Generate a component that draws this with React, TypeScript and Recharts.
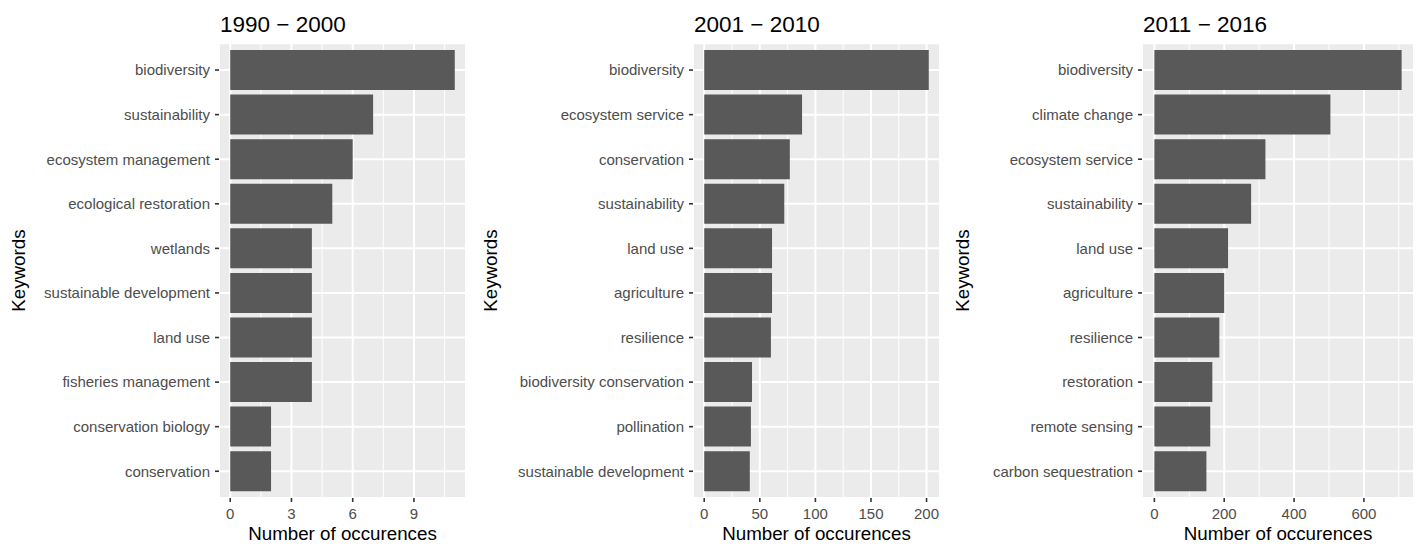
import React from 'react';
import { BarChart, Bar, XAxis, YAxis, CartesianGrid, Label } from 'recharts';

const cats1 = ['biodiversity', 'sustainability', 'ecosystem management', 'ecological restoration', 'wetlands', 'sustainable development', 'land use', 'fisheries management', 'conservation biology', 'conservation'];
const vals1 = [11, 7, 6, 5, 4, 4, 4, 4, 2, 2];
const ticks1 = [0, 3, 6, 9];
const minor1 = [1.5, 4.5, 7.5, 10.5];
const domain1: [number, number] = [-0.55, 11.55];

const cats2 = ['biodiversity', 'ecosystem service', 'conservation', 'sustainability', 'land use', 'agriculture', 'resilience', 'biodiversity conservation', 'pollination', 'sustainable development'];
const vals2 = [202, 88, 77, 72, 61, 61, 60, 43, 42, 41];
const ticks2 = [0, 50, 100, 150, 200];
const minor2 = [25, 75, 125, 175];
const domain2: [number, number] = [-10.1, 212.1];

const cats3 = ['biodiversity', 'climate change', 'ecosystem service', 'sustainability', 'land use', 'agriculture', 'resilience', 'restoration', 'remote sensing', 'carbon sequestration'];
const vals3 = [708, 504, 318, 277, 211, 200, 186, 166, 160, 149];
const ticks3 = [0, 200, 400, 600];
const minor3 = [100, 300, 500, 700];
const domain3: [number, number] = [-35.4, 743.4];

const titles = ['1990 \u2212 2000', '2001 \u2212 2010', '2011 \u2212 2016'];

const FONT = '"Liberation Sans", Arial, Helvetica, sans-serif';
const H = 546;
const TOP = 43.3;
const XH = 48;

type PanelProps = {
  cats: string[];
  vals: number[];
  ticks: number[];
  minor: number[];
  domain: [number, number];
  title: string;
  left: number;
  width: number;
  yw: number;
  right: number;
};

function Panel({ cats, vals, ticks, minor, domain, title, left, width, yw, right }: PanelProps) {
  const data = cats.map((c, i) => ({ name: c, value: vals[i] }));
  const plotH = H - TOP - XH;
  const pad = (plotH * 0.1) / 10.2;
  return (
    <div style={{ position: 'absolute', left, top: 0, width, height: H }}>
      <BarChart
        width={width}
        height={H}
        data={data}
        layout="vertical"
        margin={{ top: TOP, right, bottom: 0, left: 0 }}
        barCategoryGap="5%"
      >
        <CartesianGrid
          xAxisId="minor"
          horizontal={false}
          fill="#EBEBEB"
          stroke="#FFFFFF"
          strokeWidth={1}
        />
        <CartesianGrid stroke="#FFFFFF" strokeWidth={2} />
        <XAxis
          xAxisId="minor"
          type="number"
          domain={domain}
          ticks={minor}
          allowDataOverflow
          interval={0}
          hide
        />
        <XAxis
          type="number"
          dataKey="value"
          domain={domain}
          ticks={ticks}
          allowDataOverflow
          interval={0}
          height={XH}
          axisLine={false}
          tickSize={4}
          tickMargin={6}
          tickLine={{ stroke: '#333333', strokeWidth: 1.6 }}
          tick={{ fill: '#4D4D4D', fontSize: 15, fontFamily: FONT }}
        >
          <Label
            content={(props: any) => {
              const vb = props.viewBox || {};
              return (
                <text
                  x={vb.x + vb.width / 2}
                  y={vb.y + 42}
                  textAnchor="middle"
                  fontSize={18.75}
                  fontFamily={FONT}
                  fill="#000000"
                >
                  Number of occurences
                </text>
              );
            }}
          />
        </XAxis>
        <YAxis
          type="category"
          dataKey="name"
          width={yw}
          interval={0}
          padding={{ top: pad, bottom: pad }}
          axisLine={false}
          tickSize={4}
          tickMargin={5}
          tickLine={{ stroke: '#333333', strokeWidth: 1.6 }}
          tick={{ fill: '#4D4D4D', fontSize: 15, fontFamily: FONT }}
        >
          <Label
            content={(props: any) => {
              const vb = props.viewBox || {};
              const cy = vb.y + vb.height / 2;
              return (
                <text
                  x={25}
                  y={cy}
                  transform={`rotate(-90, 25, ${cy})`}
                  textAnchor="middle"
                  fontSize={18.75}
                  fontFamily={FONT}
                  fill="#000000"
                >
                  Keywords
                </text>
              );
            }}
          />
        </YAxis>
        <Bar dataKey="value" fill="#595959" isAnimationActive={false} />
      </BarChart>
      <svg style={{ position: 'absolute', left: 0, top: 0, pointerEvents: 'none' }} width={width} height={40}>
        <text x={yw + 1} y={32} fontSize={22.5} fontFamily={FONT} fill="#000000">
          {title}
        </text>
      </svg>
    </div>
  );
}

export default function App() {
  return (
    <div style={{ position: 'absolute', left: 0, top: 0, width: 1416, height: H, background: '#FFFFFF', fontFamily: FONT }}>
      <Panel cats={cats1} vals={vals1} ticks={ticks1} minor={minor1} domain={domain1} title={titles[0]} left={0} width={472} yw={219} right={6} />
      <Panel cats={cats2} vals={vals2} ticks={ticks2} minor={minor2} domain={domain2} title={titles[1]} left={472} width={472} yw={221} right={4} />
      <Panel cats={cats3} vals={vals3} ticks={ticks3} minor={minor3} domain={domain3} title={titles[2]} left={944} width={472} yw={198} right={2} />
    </div>
  );
}
